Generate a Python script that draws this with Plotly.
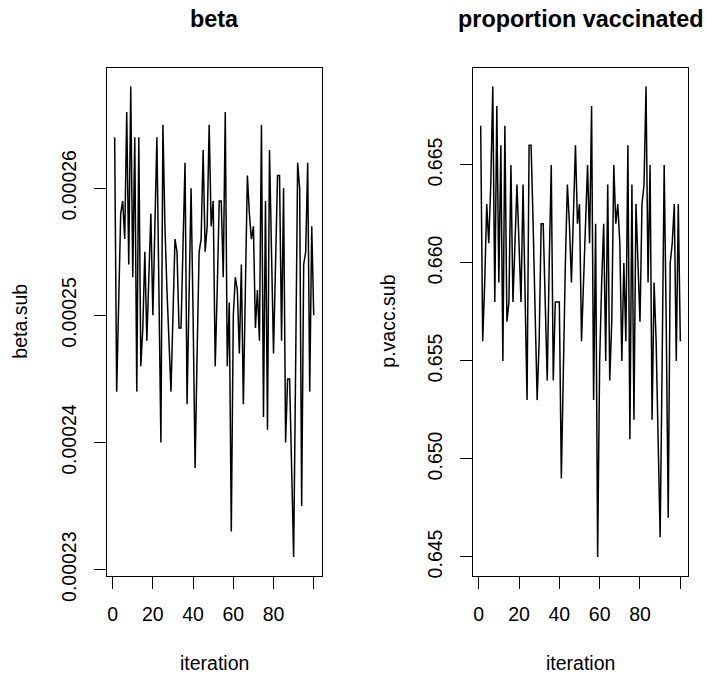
import plotly.graph_objects as go

iteration = list(range(1, 101))

beta_sub = [
    0.000264, 0.000244, 0.000251, 0.000258, 0.000259, 0.000256, 0.000266, 0.000254, 0.000268, 0.000253,
    0.000264, 0.000244, 0.000264, 0.000246, 0.000249, 0.000255, 0.000248, 0.000253, 0.000258, 0.000250,
    0.000257, 0.000264, 0.000252, 0.000240, 0.000265, 0.000257, 0.000252, 0.000248, 0.000244, 0.000250,
    0.000256, 0.000255, 0.000249, 0.000249, 0.000255, 0.000262, 0.000243, 0.000251, 0.000260, 0.000250,
    0.000238, 0.000247, 0.000255, 0.000256, 0.000263, 0.000255, 0.000257, 0.000265, 0.000257, 0.000259,
    0.000246, 0.000252, 0.000259, 0.000259, 0.000253, 0.000266, 0.000246, 0.000251, 0.000233, 0.000250,
    0.000253, 0.000252, 0.000247, 0.000254, 0.000243, 0.000252, 0.000261, 0.000258, 0.000256, 0.000257,
    0.000249, 0.000252, 0.000248, 0.000265, 0.000242, 0.000259, 0.000241, 0.000263, 0.000255, 0.000247,
    0.000254, 0.000261, 0.000261, 0.000248, 0.000260, 0.000240, 0.000245, 0.000245, 0.000238, 0.000231,
    0.000246, 0.000262, 0.000260, 0.000235, 0.000254, 0.000255, 0.000262, 0.000244, 0.000257, 0.000250,
]

p_vacc_sub = [
    0.667, 0.656, 0.659, 0.663, 0.661, 0.664, 0.669, 0.658, 0.668, 0.659,
    0.666, 0.655, 0.667, 0.657, 0.658, 0.665, 0.658, 0.661, 0.664, 0.661,
    0.658, 0.664, 0.659, 0.653, 0.666, 0.666, 0.662, 0.657, 0.653, 0.656,
    0.662, 0.662, 0.658, 0.654, 0.660, 0.665, 0.654, 0.658, 0.658, 0.658,
    0.649, 0.655, 0.660, 0.664, 0.662, 0.659, 0.663, 0.666, 0.662, 0.663,
    0.656, 0.659, 0.662, 0.665, 0.661, 0.668, 0.653, 0.662, 0.645, 0.655,
    0.659, 0.662, 0.655, 0.664, 0.654, 0.657, 0.665, 0.662, 0.663, 0.661,
    0.655, 0.660, 0.656, 0.666, 0.651, 0.664, 0.652, 0.663, 0.660, 0.657,
    0.663, 0.664, 0.669, 0.659, 0.665, 0.652, 0.659, 0.656, 0.651, 0.646,
    0.655, 0.665, 0.657, 0.647, 0.660, 0.661, 0.663, 0.655, 0.663, 0.656,
]

x_tickvals = [0, 20, 40, 60, 80, 100]
x_ticktext = ["0", "20", "40", "60", "80", ""]
beta_tickvals = [0.00023, 0.00024, 0.00025, 0.00026]
beta_ticktext = ["0.00023", "0.00024", "0.00025", "0.00026"]
pv_tickvals = [0.645, 0.650, 0.655, 0.660, 0.665]
pv_ticktext = ["0.645", "0.650", "0.655", "0.660", "0.665"]

W, H = 707, 673
FONT = "Liberation Sans, Arial, Helvetica, sans-serif"


def rrange(v):
    lo, hi = min(v), max(v)
    d = (hi - lo) * 0.04
    return [lo - d, hi + d]


fig = go.Figure()
fig.add_trace(go.Scatter(x=iteration, y=beta_sub, mode="lines",
                         line=dict(color="black", width=1.5), xaxis="x", yaxis="y",
                         showlegend=False, hoverinfo="skip"))
fig.add_trace(go.Scatter(x=iteration, y=p_vacc_sub, mode="lines",
                         line=dict(color="black", width=1.5), xaxis="x2", yaxis="y2",
                         showlegend=False, hoverinfo="skip"))

ydom = [(H - 575.7) / H, (H - 67.7) / H]
axis_common = dict(showline=True, mirror=True, linecolor="black", linewidth=1,
                   ticks="outside", ticklen=12, tickwidth=1, tickcolor="black",
                   showgrid=False, zeroline=False, automargin=False,
                   tickfont=dict(family=FONT, size=19.5, color="black"))

fig.update_layout(
    width=W, height=H,
    margin=dict(l=0, r=0, t=0, b=0, pad=0, autoexpand=False),
    paper_bgcolor="white", plot_bgcolor="white",
    showlegend=False,
    font=dict(family=FONT, color="black"),
    xaxis=dict(domain=[106.7 / W, 321.7 / W], range=rrange(iteration), anchor="y",
               tickvals=x_tickvals, ticktext=x_ticktext, ticklabelstandoff=9,
               **axis_common),
    yaxis=dict(domain=ydom, range=rrange(beta_sub), anchor="x",
               tickvals=beta_tickvals, ticktext=beta_ticktext, tickangle=-90,
               ticklabelstandoff=10, **axis_common),
    xaxis2=dict(domain=[472.7 / W, 688.3 / W], range=rrange(iteration), anchor="y2",
                tickvals=x_tickvals, ticktext=x_ticktext, ticklabelstandoff=9,
                **axis_common),
    yaxis2=dict(domain=ydom, range=rrange(p_vacc_sub), anchor="x2",
                tickvals=pv_tickvals, ticktext=pv_ticktext, tickangle=-90,
                ticklabelstandoff=10, **axis_common),
)


def ann(text, xp, yp, size, bold=False, angle=0):
    fig.add_annotation(text=("<b>%s</b>" % text) if bold else text,
                       x=xp / W, y=(H - yp) / H, xref="paper", yref="paper",
                       xanchor="center", yanchor="middle", showarrow=False,
                       textangle=angle,
                       font=dict(family=FONT, size=size, color="black"))


ann("beta", 214.2, 19, 23.4, bold=True)
ann("proportion vaccinated", 580.5, 19, 23.4, bold=True)
ann("iteration", 214.2, 663, 19.5)
ann("iteration", 580.5, 663, 19.5)
ann("beta.sub", 20, 321.7, 19.5, angle=-90)
ann("p.vacc.sub", 388, 321.7, 19.5, angle=-90)

fig.write_html("out.html")
